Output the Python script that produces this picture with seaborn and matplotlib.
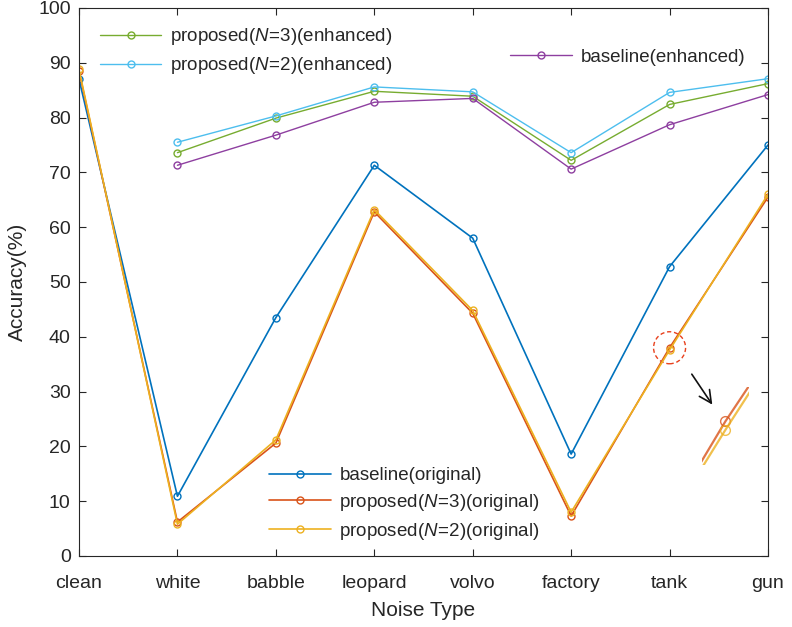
import matplotlib
matplotlib.use("Agg")
import matplotlib.pyplot as plt
from matplotlib.patches import Ellipse
import seaborn as sns

# --- Data ---
noise_types = ["clean", "white", "babble", "leopard", "volvo", "factory", "tank", "gun"]
baseline_orig = [87.0, 10.9, 43.5, 71.3, 58.0, 18.6, 52.8, 75.0]
prop3_orig = [88.5, 6.2, 20.6, 62.8, 44.3, 7.3, 38.0, 65.5]
prop2_orig = [88.8, 5.8, 21.2, 63.2, 44.8, 8.0, 37.6, 66.0]
enh_types = noise_types[1:]
prop3_enh = [73.6, 79.9, 84.8, 83.9, 72.2, 82.4, 86.2]
prop2_enh = [75.5, 80.3, 85.6, 84.7, 73.6, 84.6, 87.1]
baseline_enh = [71.3, 76.8, 82.8, 83.5, 70.6, 78.7, 84.2]

BLUE, ORANGE, YELLOW = "#0072BD", "#D95319", "#EDB120"
PURPLE, GREEN, CYAN = "#8E3FA0", "#77AC30", "#4DBEEE"

sns.set_style("ticks")
plt.rcParams["font.family"] = ["Liberation Sans", "DejaVu Sans"]
plt.rcParams["mathtext.fontset"] = "custom"
plt.rcParams["mathtext.rm"] = "Liberation Sans"
plt.rcParams["mathtext.it"] = "Liberation Sans:italic"

fig = plt.figure(figsize=(7.92, 6.27), dpi=100)
ax = fig.add_axes([79 / 792, 71 / 627, 689 / 792, 548 / 627])

x_all = list(range(len(noise_types)))
x_enh = x_all[1:]


def draw(ax, xs, ys, color, label=None, lw=1.2, ms=5):
    sns.lineplot(x=xs, y=ys, ax=ax, color=color, marker="o", markersize=ms,
                 markerfacecolor="none", markeredgecolor=color, markeredgewidth=1.0,
                 linewidth=lw, label=label, legend=False)
    return ax.lines[-1]


def prop(n, kind):
    return r"proposed($\mathit{N\!=\!%d)}$(%s)" % (n, kind)


h_b = draw(ax, x_all, baseline_orig, BLUE, "baseline(original)")
h_p3 = draw(ax, x_all, prop3_orig, ORANGE, prop(3, "original"))
h_p2 = draw(ax, x_all, prop2_orig, YELLOW, prop(2, "original"))
h_p3e = draw(ax, x_enh, prop3_enh, GREEN, prop(3, "enhanced"), lw=1.0)
h_p2e = draw(ax, x_enh, prop2_enh, CYAN, prop(2, "enhanced"), lw=1.0)
h_be = draw(ax, x_enh, baseline_enh, PURPLE, "baseline(enhanced)", lw=1.0)

ax.set_xlim(0, 7)
ax.set_ylim(0, 100)
ax.set_xticks(x_all)
ax.set_xticklabels(noise_types)
ax.set_yticks(range(0, 101, 10))
ax.tick_params(direction="in", length=5, labelsize=14, top=True, right=True,
               labeltop=False, labelright=False, color="#262626", labelcolor="#262626", pad=6)
ax.tick_params(axis="x", pad=14)
for s in ax.spines.values():
    s.set_visible(True)
    s.set_color("#262626")
    s.set_linewidth(0.8)
ax.set_xlabel("Noise Type", fontsize=15, color="#262626", labelpad=6)
ax.set_ylabel("Accuracy(%)", fontsize=15, color="#262626", labelpad=8)

leg_kw = dict(frameon=False, fontsize=13.5, handlelength=3.3, handletextpad=0.45,
              labelspacing=0.42, borderaxespad=0)
leg1 = ax.legend([h_p3e, h_p2e], [h_p3e.get_label(), h_p2e.get_label()],
                 loc="upper left", bbox_to_anchor=(0.019, 0.98), **leg_kw)
ax.add_artist(leg1)
leg2 = ax.legend([h_be], [h_be.get_label()], loc="upper left",
                 bbox_to_anchor=(0.615, 0.94), **leg_kw)
ax.add_artist(leg2)
ax.legend([h_b, h_p3, h_p2], [h_b.get_label(), h_p3.get_label(), h_p2.get_label()],
          loc="upper left", bbox_to_anchor=(0.265, 0.176), **leg_kw)

# zoom mark around the tank point
tank = noise_types.index("tank")
ax.add_patch(Ellipse((tank, prop3_orig[tank]), 32 / 98.4, 32 / 5.48, fill=False,
                     edgecolor="#E8401C", linestyle=(0, (3, 2)), linewidth=1.0))
ax.annotate("", xy=(tank + 0.45, 27.2), xytext=(tank + 0.21, 33.6),
            arrowprops=dict(arrowstyle="->", color="#111111", lw=1.2, mutation_scale=22))

ins = fig.add_axes([702 / 792, (627 - 465) / 627, 47 / 792, 78 / 627])
draw(ins, x_all, prop3_orig, ORANGE, lw=1.6, ms=7)
draw(ins, x_all, prop2_orig, YELLOW, lw=1.6, ms=7)
for ln in ins.lines:
    ln.set_alpha(0.8)
ins.set_xlim(tank - 0.06, tank + 0.06)
ins.set_ylim(prop3_orig[tank] - 2.05, prop3_orig[tank] + 1.6)
ins.axis("off")

fig.savefig("out.png", dpi=100)
